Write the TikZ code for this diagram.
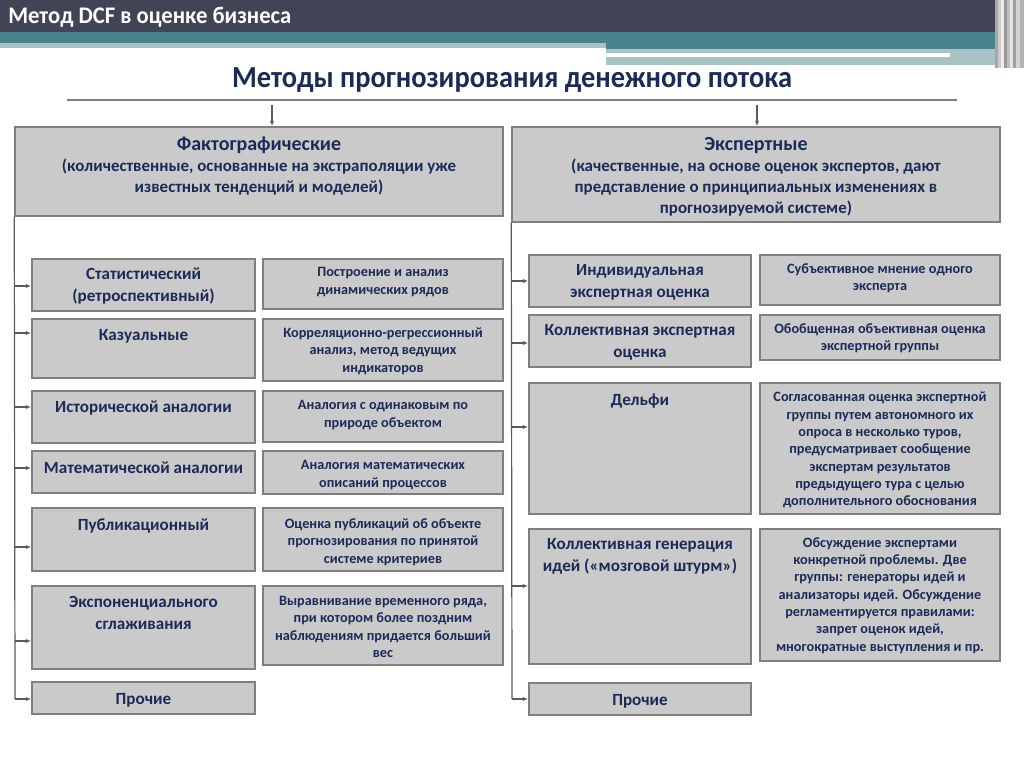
\documentclass[tikz,border=0pt]{standalone}
\usepackage{fontspec}
\setmainfont{Carlito}
\usetikzlibrary{arrows.meta,fit,calc}
\definecolor{hdark}{HTML}{434356}
\definecolor{hteal}{HTML}{47838A}
\definecolor{hlight}{HTML}{A8C2C5}
\definecolor{boxfill}{HTML}{CACACA}
\definecolor{boxline}{HTML}{7F7F7F}
\definecolor{navy}{HTML}{1C2A58}
\definecolor{conn}{HTML}{5A5A5A}
\tikzset{
  box/.style={draw=boxline, fill=boxfill, line width=1.1pt, inner sep=0pt},
  hdrtxt/.style={text=navy, align=center, inner sep=0pt, font=\bfseries\fontsize{12.7}{15.7}\selectfont},
  nametxt/.style={text=navy, align=center, inner sep=0pt, font=\bfseries\fontsize{12.8}{16}\selectfont},
  desctxt/.style={text=navy, align=center, inner sep=0pt, font=\bfseries\fontsize{10.7}{13}\selectfont},
  conline/.style={draw=conn, line width=0.9pt},
  arr/.style={draw=conn, line width=0.9pt, -{Latex[length=4pt,width=3pt]}},
}
\newcommand{\bx}[5]{\node[box, fit={(#2,#3) (#4,#5)}] (#1) {};}
\begin{document}
\begin{tikzpicture}[x=0.75pt,y=-0.75pt]
\useasboundingbox (0,0) rectangle (1024,767);
\fill[white] (0,0) rectangle (1024,767);
% header
\fill[hdark] (0,0) rectangle (1024,32);
\fill[hteal] (0,32) rectangle (1024,43);
\fill[hlight] (0,43) rectangle (606,48);
\fill[hteal] (606,43) rectangle (1024,49);
\fill[hlight] (606,49) rectangle (1024,53);
\fill[white] (606,53) rectangle (950,57);
\fill[hlight] (606,57) rectangle (1000,65);
\fill[white] (827,65) rectangle (1000,68);
\fill[hlight] (950,53) rectangle (1000,57);
\fill[gray!70] (995,0) rectangle (998,68);
\fill[gray!40] (998,0) rectangle (1001,68);
\fill[gray!15] (1001,0) rectangle (1004,68);
\fill[gray!80] (1004,0) rectangle (1007,68);
\fill[gray!50] (1007,0) rectangle (1010,68);
\fill[gray!20] (1010,0) rectangle (1013,68);
\fill[gray!75] (1013,0) rectangle (1016,68);
\fill[gray!35] (1016,0) rectangle (1020,68);
\fill[gray!60] (1020,0) rectangle (1024,68);
\node[anchor=base west, text=white, inner sep=0pt, font=\bfseries\fontsize{17}{19}\selectfont] (slidetitle) at (8,24) {\scalebox{1}[1.05]{Метод DCF в оценке бизнеса}};
% title
\node[anchor=base, text=navy, inner sep=0pt, font=\bfseries\fontsize{23}{26}\selectfont] (title) at (512,88) {\scalebox{0.925}[1]{Методы прогнозирования денежного потока}};
\draw[draw=gray, line width=1pt] (67,100) -- (957,100);
% top boxes
\bx{lh}{15}{127}{503}{216}
\bx{rh}{512}{127}{1000}{222}
\node[hdrtxt] (lht) at (259,166) {{\fontsize{15}{16}\selectfont Фактографические}\\(количественные, основанные на экстраполяции уже\\известных тенденций и моделей)};
\node[hdrtxt] (rht) at (756,177) {{\fontsize{15}{16}\selectfont Экспертные}\\(качественные, на основе оценок экспертов, дают\\представление о принципиальных изменениях в\\прогнозируемой системе)};
\coordinate (la) at (272,105);
\coordinate (ra) at (757,105);
\draw[arr] (la) -- (la |- lh.north);
\draw[arr] (ra) -- (ra |- rh.north);
% left column
\bx{l1}{32}{259}{255}{311}
\bx{l2}{32}{319}{255}{378}
\bx{l3}{32}{391}{255}{443}
\bx{l4}{32}{451}{255}{493}
\bx{l5}{32}{508}{255}{571}
\bx{l6}{32}{586}{255}{669}
\bx{l7}{32}{682}{255}{714}
\bx{d1}{263}{259}{503}{309}
\bx{d2}{263}{319}{503}{381}
\bx{d3}{263}{391}{503}{442}
\bx{d4}{263}{451}{503}{494}
\bx{d5}{263}{508}{503}{571}
\bx{d6}{263}{586}{503}{665}
\node[nametxt] (l1t) at (143.5,286) {Статистический\\(ретроспективный)};
\node[nametxt] (l2t) at (143.5,336) {Казуальные};
\node[nametxt] (l3t) at (143.5,408) {Исторической аналогии};
\node[nametxt] (l4t) at (143.5,468) {Математической аналогии};
\node[nametxt] (l5t) at (143.5,526) {Публикационный};
\node[nametxt] (l6t) at (143.5,613) {Экспоненциального\\сглаживания};
\node[nametxt] (l7t) at (143.5,700) {Прочие};
\node[desctxt] (d1t) at (383,282) {Построение и анализ\\динамических рядов};
\node[desctxt] (d2t) at (383,351) {Корреляционно-регрессионный\\анализ, метод ведущих\\индикаторов};
\node[desctxt] (d3t) at (383,415) {Аналогия с одинаковым по\\природе объектом};
\node[desctxt] (d4t) at (383,475) {Аналогия математических\\описаний процессов};
\node[desctxt] (d5t) at (383,542) {Оценка публикаций об объекте\\прогнозирования по принятой\\системе критериев};
\node[desctxt] (d6t) at (383,627) {Выравнивание временного ряда,\\при котором более поздним\\наблюдениям придается больший\\вес};
% left connectors
\coordinate (lend) at (15,699);
\draw[conline] (lh.south west) -- (lend);
\foreach \n/\y in {l1/286,l2/333,l3/407,l4/468,l5/547,l6/641,l7/699}{
  \coordinate (c\n) at (15,\y);
  \draw[arr] (c\n) -- (c\n -| \n.west);
}
% right column
\bx{r1}{529}{255}{751}{307}
\bx{r2}{529}{315}{751}{367}
\bx{r3}{529}{383}{751}{514}
\bx{r4}{529}{529}{751}{664}
\bx{r5}{529}{683}{751}{715}
\bx{e1}{760}{255}{1000}{305}
\bx{e2}{760}{315}{1000}{360}
\bx{e3}{760}{383}{1000}{514}
\bx{e4}{760}{529}{1000}{661}
\node[nametxt] (r1t) at (640,282.5) {Индивидуальная\\экспертная оценка};
\node[nametxt] (r2t) at (640,342.5) {Коллективная экспертная\\оценка};
\node[nametxt] (r3t) at (640,401) {Дельфи};
\node[nametxt] (r4t) at (640,556.5) {Коллективная генерация\\идей («мозговой штурм»)};
\node[nametxt] (r5t) at (640,701) {Прочие};
\node[desctxt] (e1t) at (880,278.5) {Субъективное мнение одного\\эксперта};
\node[desctxt] (e2t) at (880,338.5) {Обобщенная объективная оценка\\экспертной группы};
\node[desctxt] (e3t) at (880,450) {Согласованная оценка экспертной\\группы путем автономного их\\опроса в несколько туров,\\предусматривает сообщение\\экспертам результатов\\предыдущего тура с целью\\дополнительного обоснования};
\node[desctxt] (e4t) at (880,595.5) {Обсуждение экспертами\\конкретной проблемы. Две\\группы: генераторы идей и\\анализаторы идей. Обсуждение\\регламентируется правилами:\\запрет оценок идей,\\многократные выступления и пр.};
% right connectors
\coordinate (rend) at (512,699);
\draw[conline] (rh.south west) -- (rend);
\foreach \n/\y in {r1/281,r2/343,r3/427,r4/586,r5/699}{
  \coordinate (c\n) at (512,\y);
  \draw[arr] (c\n) -- (c\n -| \n.west);
}
\end{tikzpicture}
\end{document}
